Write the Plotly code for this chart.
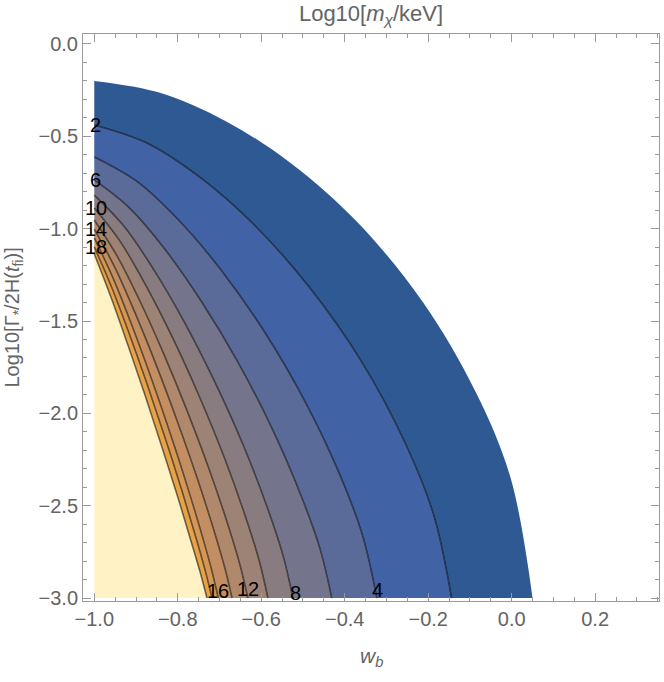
import plotly.graph_objects as go

# Contour curves of Log10[m_chi/keV].
# Each runs from the left edge (w_b = -1) down to the bottom edge (y = -3).
OUTER_X = [-1.0, -0.8425, -0.685, -0.5275, -0.37, -0.2125, -0.0865, -0.0025, 0.05]
OUTER_Y = [-0.2, -0.264, -0.418, -0.648, -0.964, -1.398, -1.883, -2.350, -3.0]

L2_X = [-1.0, -0.8716, -0.7432, -0.6148, -0.4864, -0.358, -0.2553, -0.1868, -0.144]
L2_Y = [-0.439, -0.539, -0.728, -0.984, -1.312, -1.725, -2.159, -2.549, -3.0]

L4_X = [-1.0, -0.8985, -0.7969, -0.6954, -0.5938, -0.4923, -0.411, -0.3569, -0.323]
L4_Y = [-0.612, -0.743, -0.956, -1.226, -1.553, -1.947, -2.336, -2.664, -3.0]

L6_X = [-1.0, -0.9147, -0.8293, -0.744, -0.6586, -0.5733, -0.505, -0.4595, -0.431]
L6_Y = [-0.736, -0.890, -1.116, -1.392, -1.712, -2.085, -2.443, -2.731, -3.0]

L8_X = [-1.0, -0.9286, -0.8572, -0.7858, -0.7144, -0.643, -0.5859, -0.5478, -0.524]
L8_Y = [-0.818, -0.987, -1.223, -1.499, -1.815, -2.173, -2.507, -2.769, -3.0]

L10_X = [-1.0, -0.9376, -0.8752, -0.8128, -0.7504, -0.688, -0.6381, -0.6048, -0.584]
L10_Y = [-0.888, -1.070, -1.313, -1.589, -1.898, -2.242, -2.557, -2.798, -3.0]

L12_X = [-1.0, -0.9448, -0.8896, -0.8344, -0.7792, -0.724, -0.6798, -0.6504, -0.632]
L12_Y = [-0.953, -1.150, -1.397, -1.674, -1.977, -2.308, -2.603, -2.825, -3.0]

L14_X = [-1.0, -0.9505, -0.901, -0.8515, -0.802, -0.7525, -0.7129, -0.6865, -0.67]
L14_Y = [-1.002, -1.211, -1.463, -1.739, -2.037, -2.357, -2.637, -2.843, -3.0]

L16_X = [-1.0, -0.9555, -0.9109, -0.8664, -0.8218, -0.7773, -0.7416, -0.7179, -0.703]
L16_Y = [-1.050, -1.265, -1.518, -1.791, -2.084, -2.394, -2.662, -2.856, -3.0]

L18_X = [-1.0, -0.9577, -0.9154, -0.8731, -0.8308, -0.7885, -0.7547, -0.7321, -0.718]
L18_Y = [-1.099, -1.321, -1.574, -1.844, -2.129, -2.430, -2.686, -2.869, -3.0]

L20_X = [-1.0, -0.9595, -0.919, -0.8785, -0.838, -0.7975, -0.7651, -0.7435, -0.73]
L20_Y = [-1.137, -1.374, -1.633, -1.901, -2.182, -2.471, -2.715, -2.883, -3.0]

# contour labels
LABELS = ["2", "6", "10", "14", "18", "16", "12", "8", "4"]
LABEL_X = [-0.998, -0.996, -0.996, -0.996, -0.996, -0.703, -0.631, -0.519, -0.322]
LABEL_Y = [-0.439, -0.736, -0.890, -1.003, -1.097, -2.962, -2.952, -2.970, -2.955]

GRAY = "#646464"
FRAME = "#9a9a9a"
FONT = "Liberation Sans"

# innermost first; each fill goes back to the previous curve
curves = [
    (L20_X, L20_Y, "rgb(255,243,197)", True),
    (L18_X, L18_Y, "rgb(232,163,72)", True),
    (L16_X, L16_Y, "rgb(213,151,86)", True),
    (L14_X, L14_Y, "rgb(195,143,98)", True),
    (L12_X, L12_Y, "rgb(176,137,108)", True),
    (L10_X, L10_Y, "rgb(157,131,117)", True),
    (L8_X, L8_Y, "rgb(137,124,128)", True),
    (L6_X, L6_Y, "rgb(116,117,140)", True),
    (L4_X, L4_Y, "rgb(90,106,153)", True),
    (L2_X, L2_Y, "rgb(65,98,165)", True),
    (OUTER_X, OUTER_Y, "rgb(46,89,146)", False),
]

fig = go.Figure()

# corner of the domain, so the innermost region closes along the edges
fig.add_trace(go.Scatter(
    x=[L20_X[0], -1.0, L20_X[-1]], y=[L20_Y[0], -3.0, L20_Y[-1]],
    mode="lines", line=dict(width=0), hoverinfo="skip", showlegend=False
))

for xs, ys, col, drawn in curves:
    fig.add_trace(go.Scatter(
        x=xs, y=ys, mode="lines",
        line=dict(color="rgba(0,0,0,0.55)" if drawn else col,
                  width=1.6 if drawn else 0, shape="spline", smoothing=1),
        fill="tonexty", fillcolor=col,
        hoverinfo="skip", showlegend=False
    ))

for t, x, y in zip(LABELS, LABEL_X, LABEL_Y):
    fig.add_annotation(x=x, y=y, text=t, showarrow=False,
                       font=dict(family=FONT, size=20, color="black"))

axis_common = dict(
    showgrid=False, zeroline=False, showline=True, linecolor=FRAME,
    linewidth=1, mirror="ticks", ticks="inside", ticklen=8, tickcolor=FRAME,
    tickfont=dict(family=FONT, size=20, color=GRAY), tickformat=".1f",
    automargin=False,
)

fig.update_xaxes(range=[-1.027, 0.353], tick0=-1.0, dtick=0.2,
                 minor=dict(dtick=0.05, ticks="inside", ticklen=4, tickcolor=FRAME),
                 **axis_common)
fig.update_yaxes(range=[-3.016, 0.054], tick0=0.0, dtick=0.5,
                 minor=dict(dtick=0.1, ticks="inside", ticklen=4, tickcolor=FRAME),
                 **axis_common)

fig.add_annotation(xref="paper", yref="paper", x=0.5, y=-0.099, text="<i>w</i><sub><i>b</i></sub>",
                   showarrow=False, yanchor="middle",
                   font=dict(family=FONT, size=21, color=GRAY))
fig.add_annotation(xref="paper", yref="paper", x=-0.1215, y=0.5, textangle=-90,
                   text="Log10[Γ<sub>*</sub>/2H(<i>t</i><sub>fi</sub>)]",
                   showarrow=False, xanchor="center", yanchor="middle",
                   font=dict(family=FONT, size=20, color=GRAY))

fig.update_layout(
    width=664, height=682,
    margin=dict(l=83, r=5, t=34, b=81),
    paper_bgcolor="white", plot_bgcolor="white",
    title=dict(text="Log10[<i>m</i><sub><i>χ</i></sub>/keV]", x=0.5, xref="paper",
               xanchor="center", y=0.981, yref="container", yanchor="middle",
               font=dict(family=FONT, size=22, color=GRAY)),
)

# drop the page's default body margin so the figure fills the window
fig.write_html("out.html", config={"displayModeBar": False},
               post_script="document.body.style.margin = '0';")
